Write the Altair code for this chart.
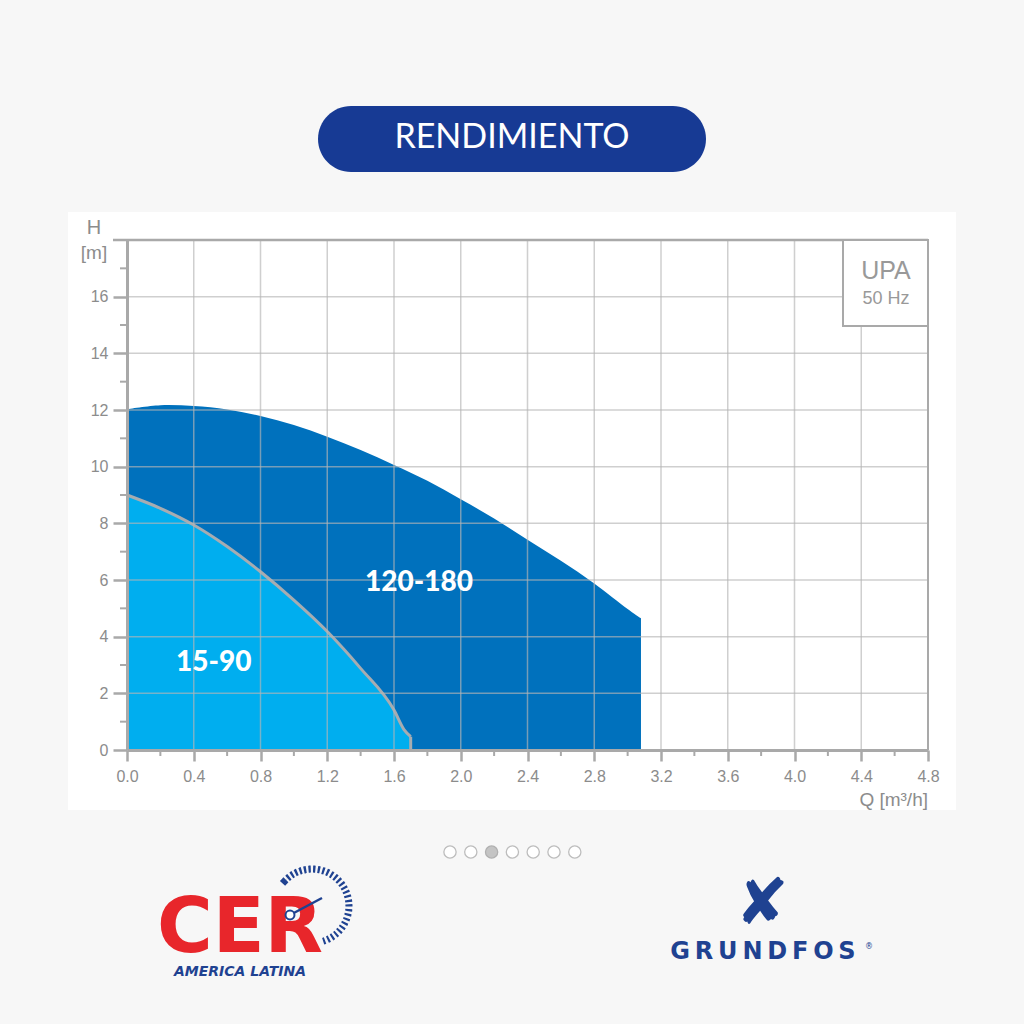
import altair as alt
import pandas as pd

# ---- Performance curves: flow Q [m3/h] vs head H [m] ----
q_120_180 = [0.0, 0.2, 0.4, 0.6, 0.8, 1.0, 1.2, 1.4, 1.6, 1.8, 2.0, 2.2, 2.4, 2.6, 2.8, 3.0, 3.08]
h_120_180 = [12.03, 12.17, 12.14, 12.02, 11.79, 11.47, 11.06, 10.59, 10.06, 9.5, 8.85, 8.17, 7.42, 6.68, 5.88, 4.98, 4.65]

q_15_90 = [0.0, 0.2, 0.4, 0.6, 0.8, 1.0, 1.2, 1.4, 1.6, 1.66, 1.7]
h_15_90 = [9.0, 8.53, 7.94, 7.18, 6.29, 5.29, 4.18, 2.88, 1.41, 0.72, 0.47]

# Series labels and where they sit inside their areas
series_names = ["120-180", "15-90"]
label_q = [1.75, 0.52]
label_h = [5.9, 3.07]

# Axis ticks
q_ticks = [0.0, 0.4, 0.8, 1.2, 1.6, 2.0, 2.4, 2.8, 3.2, 3.6, 4.0, 4.4, 4.8]
q_minor = [0.2, 0.6, 1.0, 1.4, 1.8, 2.2, 2.6, 3.0, 3.4, 3.8, 4.2, 4.6]
h_ticks = [0, 2, 4, 6, 8, 10, 12, 14, 16]
h_minor = [1, 3, 5, 7, 9, 11, 13, 15, 17]
q_grid = [0.4, 0.8, 1.2, 1.6, 2.0, 2.4, 2.8, 3.2, 3.6, 4.0, 4.4]
h_grid = [2, 4, 6, 8, 10, 12, 14, 16]

# Carousel indicator (third page active)
dot_active = [False, False, True, False, False, False, False]

# ---- Styling ----
W, H = 801, 510
DARK = "#0071bd"
LIGHT = "#00aeef"
OUTLINE = "#a7acb1"
AXIS = "#a9a9a9"
GRID = "#b5b5b5"
LABEL = "#8c8c8c"
NAVY = "#173a94"
LOGO_BLUE = "#1f4291"
RED = "#e8262b"
FONT = "Liberation Sans"
THIN = "\u2009"

x_axis = alt.Axis(values=q_ticks, format=".1f", title=None, grid=False,
                  domainColor=AXIS, domainWidth=3, tickColor=AXIS, tickWidth=2.5,
                  tickSize=11, labelPadding=7, labelFont=FONT, labelFontSize=16,
                  labelColor=LABEL, labelFlush=False, labelOverlap=False, zindex=1)
y_axis = alt.Axis(values=h_ticks, format="d", title=None, grid=False,
                  domainColor=AXIS, domainWidth=3, tickColor=AXIS, tickWidth=2.5,
                  tickSize=14, labelPadding=5, labelFont=FONT, labelFontSize=16,
                  labelColor=LABEL, labelFlush=False, labelOverlap=False, zindex=1)
x_scale = alt.Scale(domain=[0, 4.8], nice=False, zero=False)
y_scale = alt.Scale(domain=[0, 18], nice=False)


def X():
    return alt.X("Q:Q", scale=x_scale, axis=x_axis)


def Y():
    return alt.Y("H:Q", scale=y_scale, axis=y_axis)


big = pd.DataFrame({"Q": q_120_180, "H": h_120_180})
small = pd.DataFrame({"Q": q_15_90, "H": h_15_90})
labels = pd.DataFrame({"Q": label_q, "H": label_h, "name": series_names})
end_drop = pd.DataFrame({"Q": [q_15_90[-1]], "H": [h_15_90[-1]], "H0": [0.0]})
one = pd.DataFrame({"k": [0]})  # single row for page decorations


def deco():
    return alt.Chart(one)


layers = []

# white chart panel
layers.append(deco().mark_rect(color="white").encode(
    x=alt.value(-59), x2=alt.value(829), y=alt.value(-28), y2=alt.value(570)))

# performance areas
layers.append(alt.Chart(big).mark_area(color=DARK, interpolate="catmull-rom").encode(x=X(), y=Y()))
layers.append(alt.Chart(small).mark_area(color=LIGHT, interpolate="monotone").encode(x=X(), y=Y()))
layers.append(alt.Chart(small).mark_line(color=OUTLINE, strokeWidth=3, interpolate="monotone").encode(x=X(), y=Y()))
layers.append(alt.Chart(end_drop).mark_rule(color=OUTLINE, strokeWidth=3).encode(
    x=X(), y=Y(), y2=alt.Y2("H0")))

# grid drawn over the areas
layers.append(alt.Chart(pd.DataFrame({"Q": q_grid})).mark_rule(
    color=GRID, strokeWidth=1.5, opacity=0.65).encode(x=X()))
layers.append(alt.Chart(pd.DataFrame({"H": h_grid})).mark_rule(
    color=GRID, strokeWidth=1.5, opacity=0.65).encode(y=Y()))

# frame: top and right edges
layers.append(deco().mark_rule(color=AXIS, strokeWidth=2.5).encode(
    x=alt.value(-14), x2=alt.value(W), y=alt.value(0)))
layers.append(deco().mark_rule(color=AXIS, strokeWidth=2).encode(
    x=alt.value(W), y=alt.value(0), y2=alt.value(H)))

# minor ticks
layers.append(alt.Chart(pd.DataFrame({"Q": q_minor})).mark_rule(color=AXIS, strokeWidth=2).encode(
    x=X(), y=alt.value(H), y2=alt.value(H + 6)))
layers.append(alt.Chart(pd.DataFrame({"H": h_minor})).mark_rule(color=AXIS, strokeWidth=2).encode(
    y=Y(), x=alt.value(-7), x2=alt.value(0)))

# model box
layers.append(deco().mark_rect(fill="white", stroke=AXIS, strokeWidth=2).encode(
    x=alt.value(716), x2=alt.value(W), y=alt.value(0), y2=alt.value(86)))
layers.append(deco().mark_text(text="UPA", font=FONT, fontSize=25, color="#999999",
                               baseline="middle").encode(x=alt.value(759), y=alt.value(31)))
layers.append(deco().mark_text(text="50 Hz", font=FONT, fontSize=18, color="#999999",
                               baseline="middle").encode(x=alt.value(759), y=alt.value(59)))

# axis titles
layers.append(deco().mark_text(text="H", font=FONT, fontSize=20, color=LABEL,
                               baseline="middle").encode(x=alt.value(-33), y=alt.value(-12)))
layers.append(deco().mark_text(text="[m]", font=FONT, fontSize=19, color=LABEL,
                               baseline="middle").encode(x=alt.value(-33), y=alt.value(13)))
layers.append(deco().mark_text(text="Q [m³/h]", font=FONT, fontSize=19, color=LABEL,
                               align="right", baseline="middle").encode(
    x=alt.value(W), y=alt.value(560)))

# series labels
layers.append(alt.Chart(labels).mark_text(font="Lato", fontWeight=900, fontSize=28, color="white",
                                          baseline="middle").encode(x=X(), y=Y(), text="name:N"))

# section heading pill
layers.append(deco().mark_rect(color=NAVY, cornerRadius=33).encode(
    x=alt.value(191), x2=alt.value(579), y=alt.value(-134), y2=alt.value(-68)))
layers.append(deco().mark_text(text="RENDIMIENTO", font="Lato", fontSize=34, color="white",
                               baseline="middle").encode(x=alt.value(385), y=alt.value(-102)))

# carousel dots
for i, active in enumerate(dot_active):
    layers.append(deco().mark_point(
        shape="circle", size=150, filled=True,
        fill="#c4c4c4" if active else "white",
        stroke="#b0b0b0" if active else "#bdbdbd", strokeWidth=1.3, opacity=1).encode(
        x=alt.value(323 + i * 20.8), y=alt.value(612)))

# CER logo
layers.append(deco().mark_arc(radius=37, radius2=36.9, theta=5.46, theta2=9.15,
                              fillOpacity=0, stroke=LOGO_BLUE, strokeWidth=7,
                              strokeDash=[1.6, 3]).encode(
    x=alt.value(185), y=alt.value(666)))
layers.append(deco().mark_text(text="CER", font="DejaVu Sans", fontWeight="bold", fontSize=76,
                               color=RED, baseline="alphabetic").encode(
    x=alt.value(113), y=alt.value(712)))
layers.append(deco().mark_rule(color=LOGO_BLUE, strokeWidth=2.5).encode(
    x=alt.value(163), x2=alt.value(195), y=alt.value(675), y2=alt.value(658)))
layers.append(deco().mark_point(shape="circle", size=80, filled=True, fill="white",
                                stroke=LOGO_BLUE, strokeWidth=2, opacity=1).encode(
    x=alt.value(163), y=alt.value(675)))
layers.append(deco().mark_text(text="AMERICA LATINA", font="DejaVu Sans", fontWeight="bold",
                               fontStyle="italic", fontSize=14,
                               color=LOGO_BLUE, baseline="middle").encode(
    x=alt.value(113), y=alt.value(732)))

# GRUNDFOS logo
layers.append(deco().mark_text(text="✘", font="DejaVu Sans", fontSize=64, color=LOGO_BLUE,
                               baseline="middle").encode(x=alt.value(635), y=alt.value(665)))
layers.append(deco().mark_text(text=THIN.join("GRUNDFOS"), font="DejaVu Sans", fontWeight="bold",
                               fontSize=24, color=LOGO_BLUE,
                               baseline="middle").encode(x=alt.value(636), y=alt.value(712)))
layers.append(deco().mark_text(text="®", font="DejaVu Sans", fontSize=8, color=LOGO_BLUE,
                               baseline="middle").encode(x=alt.value(742), y=alt.value(707)))

chart = alt.layer(*layers).properties(
    width=W, height=H,
    padding={"left": 127, "top": 240, "right": 96, "bottom": 274},
    autosize=alt.AutoSizeParams(type="none"),
    background="#f7f7f7",
).configure_view(stroke=None)

chart.save("out.html", embed_options={"renderer": "svg", "actions": False})
